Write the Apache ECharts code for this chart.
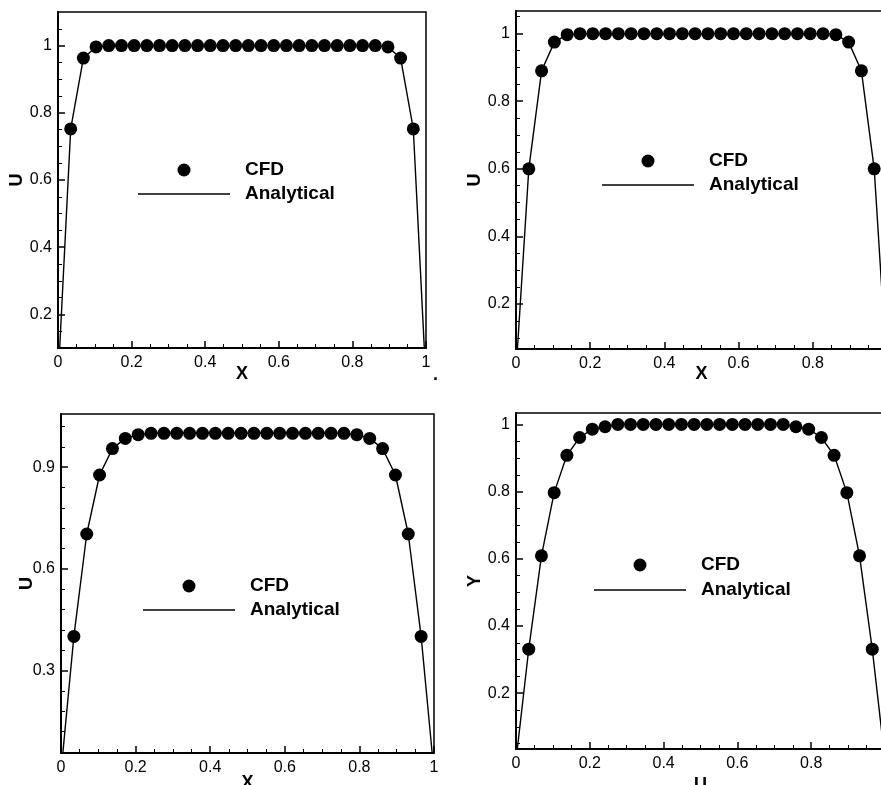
<!DOCTYPE html>
<html>
<head>
<meta charset="utf-8">
<script src="https://cdn.jsdelivr.net/npm/echarts@6/dist/echarts.min.js"></script>
<style>
  html, body { margin: 0; padding: 0; background: #fff; }
  #main { width: 881px; height: 785px; }
</style>
</head>
<body>
<div id="main"></div>
<script>
// node positions of the CFD samples (same in all four profiles)
const xNodes = [0.0345, 0.0690, 0.1034, 0.1379, 0.1724, 0.2069, 0.2414, 0.2759, 0.3103, 0.3448,
  0.3793, 0.4138, 0.4483, 0.4828, 0.5172, 0.5517, 0.5862, 0.6207, 0.6552, 0.6897,
  0.7241, 0.7586, 0.7931, 0.8276, 0.8621, 0.8966, 0.9310, 0.9655]
// analytical curve goes to the walls
const xLine = [0, 0.0345, 0.0690, 0.1034, 0.1379, 0.1724, 0.2069, 0.2414, 0.2759, 0.3103, 0.3448,
  0.3793, 0.4138, 0.4483, 0.4828, 0.5172, 0.5517, 0.5862, 0.6207, 0.6552, 0.6897,
  0.7241, 0.7586, 0.7931, 0.8276, 0.8621, 0.8966, 0.9310, 0.9655, 1]

const cfdA = [0.752, 0.963, 0.996, 1, 1, 1, 1, 1, 1, 1, 1, 1, 1, 1, 1, 1, 1, 1, 1, 1, 1, 1, 1, 1, 1, 0.996, 0.963, 0.752]
const cfdB = [0.600, 0.890, 0.975, 0.997, 1, 1, 1, 1, 1, 1, 1, 1, 1, 1, 1, 1, 1, 1, 1, 1, 1, 1, 1, 1, 0.997, 0.975, 0.890, 0.600]
const cfdC = [0.401, 0.703, 0.877, 0.955, 0.985, 0.996, 1, 1, 1, 1, 1, 1, 1, 1, 1, 1, 1, 1, 1, 1, 1, 1, 0.996, 0.985, 0.955, 0.877, 0.703, 0.401]
const cfdD = [0.331, 0.609, 0.797, 0.908, 0.961, 0.986, 0.993, 1, 1, 1, 1, 1, 1, 1, 1, 1, 1, 1, 1, 1, 1, 0.993, 0.986, 0.961, 0.908, 0.797, 0.609, 0.331]

const anaA = [0, 0.752, 0.963, 0.996, 1, 1, 1, 1, 1, 1, 1, 1, 1, 1, 1, 1, 1, 1, 1, 1, 1, 1, 1, 1, 1, 1, 0.996, 0.963, 0.752, 0]
const anaB = [0, 0.600, 0.890, 0.975, 0.997, 1, 1, 1, 1, 1, 1, 1, 1, 1, 1, 1, 1, 1, 1, 1, 1, 1, 1, 1, 1, 0.997, 0.975, 0.890, 0.600, 0]
const anaC = [0, 0.401, 0.703, 0.877, 0.955, 0.985, 0.996, 1, 1, 1, 1, 1, 1, 1, 1, 1, 1, 1, 1, 1, 1, 1, 1, 0.996, 0.985, 0.955, 0.877, 0.703, 0.401, 0]
const anaD = [0, 0.331, 0.609, 0.797, 0.908, 0.961, 0.986, 0.993, 1, 1, 1, 1, 1, 1, 1, 1, 1, 1, 1, 1, 1, 1, 0.993, 0.986, 0.961, 0.908, 0.797, 0.609, 0.331, 0]

// tick values
const xMajor = [0, 0.2, 0.4, 0.6, 0.8, 1]
const xMinor = [0.05, 0.1, 0.15, 0.25, 0.3, 0.35, 0.45, 0.5, 0.55, 0.65, 0.7, 0.75, 0.85, 0.9, 0.95]
const yMajor = [0.2, 0.4, 0.6, 0.8, 1]
const yMinor = [0.05, 0.1, 0.15, 0.25, 0.3, 0.35, 0.45, 0.5, 0.55, 0.65, 0.7, 0.75, 0.85, 0.9, 0.95, 1.05]
const yMajor3 = [0.3, 0.6, 0.9]
const yMinor3 = [0.06, 0.12, 0.18, 0.24, 0.36, 0.42, 0.48, 0.54, 0.66, 0.72, 0.78, 0.84, 0.96, 1.02]

const font = 'Liberation Sans, Arial, sans-serif'

const panels = [
  { grid: { left: 58, top: 12, width: 368, height: 336 }, yMin: 0.1, yMax: 1.1, yTicks: yMajor, yMinorTicks: yMinor,
    xName: 'X', yName: 'U', xGap: 17, yGap: 32, legend: { left: 138, top: 160.5 }, gap: 5, cfd: cfdA, ana: anaA },
  { grid: { left: 516, top: 11, width: 371, height: 338 }, yMin: 0.067, yMax: 1.067, yTicks: yMajor, yMinorTicks: yMinor,
    xName: 'X', yName: 'U', xGap: 16, yGap: 32, legend: { left: 602, top: 151.5 }, gap: 5, cfd: cfdB, ana: anaB },
  { grid: { left: 61, top: 414, width: 373, height: 339 }, yMin: 0.057, yMax: 1.057, yTicks: yMajor3, yMinorTicks: yMinor3,
    xName: 'X', yName: 'U', xGap: 21, yGap: 25, legend: { left: 143, top: 576.5 }, gap: 5, cfd: cfdC, ana: anaC },
  { grid: { left: 516, top: 413, width: 369, height: 336 }, yMin: 0.034, yMax: 1.034, yTicks: yMajor, yMinorTicks: yMinor,
    xName: 'U', yName: 'Y', xGap: 27, yGap: 32, legend: { left: 594, top: 555.5 }, gap: 6, cfd: cfdD, ana: anaD }
]

function inRange(arr, lo, hi) {
  return arr.filter(v => v >= lo && v <= hi)
}

const grid = [], xAxis = [], yAxis = [], series = [], legend = []
const labelStyle = { fontFamily: font, fontSize: 16, color: '#000' }
const nameStyle = { fontFamily: font, fontSize: 18, fontWeight: 'bold', color: '#000' }

panels.forEach((p, i) => {
  grid.push(Object.assign({ show: true, borderColor: '#000', borderWidth: 1.5, backgroundColor: 'transparent', outerBoundsMode: 'none' }, p.grid))

  // main axes: line, major ticks, labels, name
  xAxis.push({
    type: 'value', gridIndex: i, min: 0, max: 1, position: 'bottom',
    name: p.xName, nameLocation: 'middle', nameGap: p.xGap, nameTextStyle: nameStyle, nameMoveOverlap: false,
    axisLine: { show: true, lineStyle: { color: '#000', width: 2 } },
    axisTick: { show: true, inside: true, length: 7, customValues: xMajor, lineStyle: { color: '#000', width: 1.5 } },
    axisLabel: { show: true, margin: 7, customValues: xMajor, ...labelStyle },
    splitLine: { show: false }
  })
  // second axis only carries the minor ticks
  xAxis.push({
    type: 'value', gridIndex: i, min: 0, max: 1, position: 'bottom',
    axisLine: { show: false },
    axisTick: { show: true, inside: true, length: 4, customValues: xMinor, lineStyle: { color: '#000', width: 1 } },
    axisLabel: { show: false },
    splitLine: { show: false }
  })
  yAxis.push({
    type: 'value', gridIndex: i, min: p.yMin, max: p.yMax, position: 'left',
    name: p.yName, nameLocation: 'middle', nameGap: p.yGap, nameTextStyle: nameStyle, nameMoveOverlap: false,
    axisLine: { show: true, lineStyle: { color: '#000', width: 2 } },
    axisTick: { show: true, inside: true, length: 7, customValues: p.yTicks, lineStyle: { color: '#000', width: 1.5 } },
    axisLabel: { show: true, margin: 6, customValues: p.yTicks, ...labelStyle },
    splitLine: { show: false }
  })
  yAxis.push({
    type: 'value', gridIndex: i, min: p.yMin, max: p.yMax, position: 'left',
    axisLine: { show: false },
    axisTick: { show: true, inside: true, length: 4, customValues: inRange(p.yMinorTicks, p.yMin, p.yMax), lineStyle: { color: '#000', width: 1 } },
    axisLabel: { show: false },
    splitLine: { show: false }
  })

  series.push({
    name: 'Analytical', type: 'line', xAxisIndex: 2 * i, yAxisIndex: 2 * i,
    data: xLine.map((x, k) => [x, p.ana[k]]),
    symbol: 'none', lineStyle: { color: '#000', width: 1.4 }, itemStyle: { color: '#000' }, z: 2
  })
  series.push({
    name: 'CFD', type: 'scatter', xAxisIndex: 2 * i, yAxisIndex: 2 * i,
    data: xNodes.map((x, k) => [x, p.cfd[k]]),
    symbol: 'circle', symbolSize: 13, itemStyle: { color: '#000', opacity: 1 }, z: 3
  })

  legend.push({
    orient: 'vertical', left: p.legend.left, top: p.legend.top,
    itemWidth: 92, itemHeight: 13, itemGap: p.gap, padding: 0,
    selectedMode: false,
    data: [
      { name: 'CFD', icon: 'circle' },
      { name: 'Analytical', icon: 'path://M0 0H100V1.6H0Z' }
    ],
    itemStyle: { opacity: 1 },
    textStyle: { fontFamily: font, fontSize: 19, fontWeight: 'bold', color: '#000', padding: [0, 0, 0, 10] }
  })
})

const chart = echarts.init(document.getElementById('main'), null, { renderer: 'canvas' })
chart.setOption({
  animation: false,
  backgroundColor: '#fff',
  grid, xAxis, yAxis, series, legend,
  graphic: [{ type: 'text', left: 433, top: 366, style: { text: '.', font: 'bold 18px ' + font, fill: '#000' } }]
})
</script>
</body>
</html>
